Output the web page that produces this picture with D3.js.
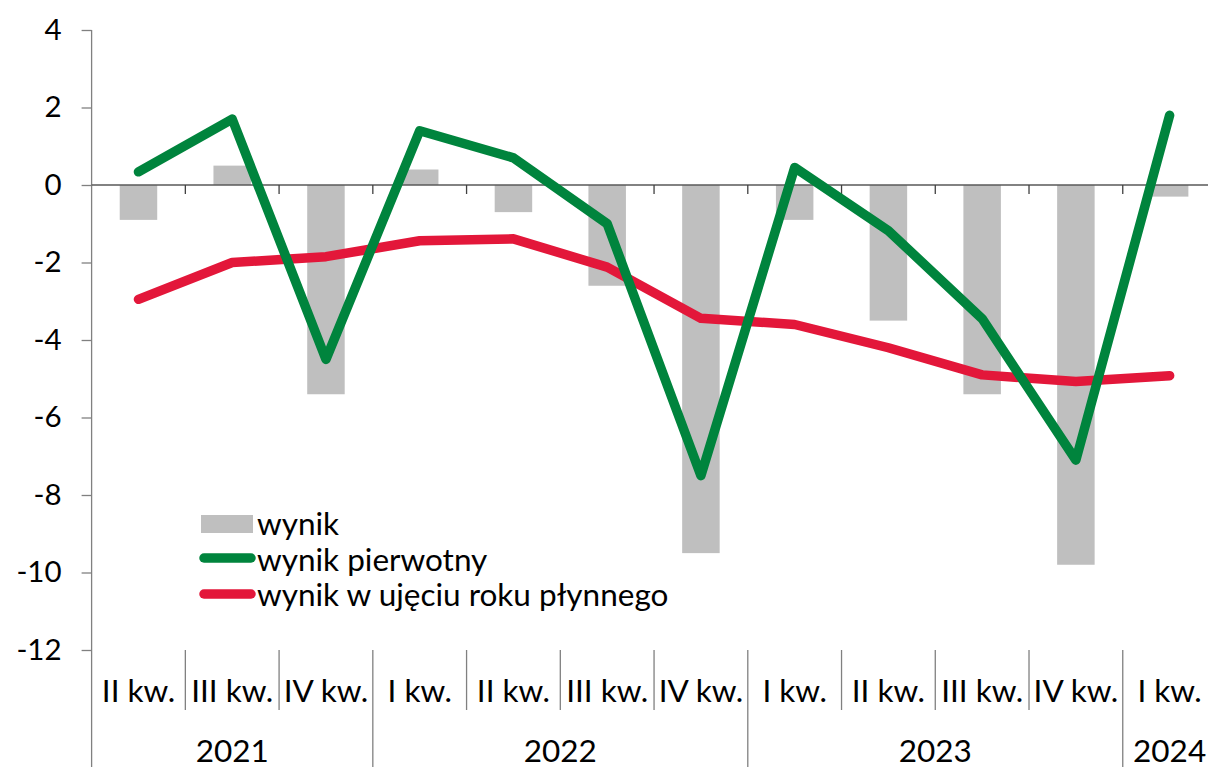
<!DOCTYPE html>
<html>
<head>
<meta charset="utf-8">
<script src="https://cdn.jsdelivr.net/npm/d3@7"></script>
<style>
  html, body { margin: 0; padding: 0; background: #fff; }
  svg { display: block; }
  text { font-family: Lato, "Open Sans", sans-serif; fill: #000; }
</style>
</head>
<body>
<svg id="chart" width="1208" height="767"></svg>
<script>
const quarters = ["II kw.", "III kw.", "IV kw.", "I kw.", "II kw.", "III kw.", "IV kw.", "I kw.", "II kw.", "III kw.", "IV kw.", "I kw."];
const years = [
  { label: "2021", start: 0, end: 3 },
  { label: "2022", start: 3, end: 7 },
  { label: "2023", start: 7, end: 11 },
  { label: "2024", start: 11, end: 12 }
];
const wynik = [-0.9, 0.5, -5.4, 0.4, -0.7, -2.6, -9.5, -0.9, -3.5, -5.4, -9.8, -0.3];
const wynikPierwotny = [0.34, 1.7, -4.5, 1.4, 0.7, -1.0, -7.5, 0.45, -1.18, -3.45, -7.1, 1.8];
const wynikRoczny = [-2.95, -2.0, -1.85, -1.44, -1.39, -2.12, -3.44, -3.6, -4.2, -4.9, -5.07, -4.92];
const yTicks = [4, 2, 0, -2, -4, -6, -8, -10, -12];
const legendLabels = ["wynik", "wynik pierwotny", "wynik w ujęciu roku płynnego"];

const colors = { bar: "#BFBFBF", green: "#00843D", red: "#E3173A", axis: "#808080" };

const svg = d3.select("#chart");
const plotLeft = 91.6, plotRight = 1216.5, plotTop = 30, plotBottom = 650;

const idx = d3.range(quarters.length);
const x = d3.scaleBand().domain(idx).range([plotLeft, plotRight]).paddingInner(0.6).paddingOuter(0.3);
const step = x.step();
const cx = i => x(i) + x.bandwidth() / 2;
const bandStart = i => plotLeft + i * step;
const y = d3.scaleLinear().domain([-12, 4]).range([plotBottom, plotTop]);

// bars
svg.append("g").selectAll("rect").data(wynik).join("rect")
  .attr("x", (d, i) => x(i))
  .attr("width", x.bandwidth())
  .attr("y", d => Math.min(y(d), y(0)))
  .attr("height", d => Math.abs(y(d) - y(0)))
  .attr("fill", colors.bar);

// y axis
const yAxis = d3.axisLeft(y).tickValues(yTicks).tickSize(10).tickPadding(20).tickFormat(d => String(d));
const yg = svg.append("g").attr("transform", `translate(${plotLeft},0)`).call(yAxis);
yg.select(".domain").remove();
yg.selectAll(".tick line").attr("stroke", colors.axis).attr("stroke-width", 1.3);
yg.selectAll(".tick text").style("font-family", "Lato, sans-serif").style("font-size", "29.5px").attr("fill", "#000");
svg.append("line").attr("x1", plotLeft).attr("x2", plotLeft).attr("y1", plotTop).attr("y2", 767)
  .attr("stroke", colors.axis).attr("stroke-width", 1.3);

// zero line with ticks
svg.append("line").attr("x1", plotLeft).attr("x2", 1208).attr("y1", y(0)).attr("y2", y(0))
  .attr("stroke", "#595959").attr("stroke-width", 1.5);
svg.append("g").selectAll("line").data(d3.range(1, quarters.length)).join("line")
  .attr("x1", i => bandStart(i)).attr("x2", i => bandStart(i))
  .attr("y1", y(0)).attr("y2", y(0) + 9)
  .attr("stroke", "#404040").attr("stroke-width", 1.3);

// lines
const line = d3.line().x((d, i) => cx(i)).y(d => y(d));
svg.append("path").datum(wynikRoczny).attr("d", line)
  .attr("fill", "none").attr("stroke", colors.red).attr("stroke-width", 9.5)
  .attr("stroke-linejoin", "round").attr("stroke-linecap", "round");
svg.append("path").datum(wynikPierwotny).attr("d", line)
  .attr("fill", "none").attr("stroke", colors.green).attr("stroke-width", 9.5)
  .attr("stroke-linejoin", "round").attr("stroke-linecap", "round");

// category axis
const yearStarts = new Set(years.map(d => d.start));
svg.append("g").selectAll("line").data(d3.range(1, quarters.length)).join("line")
  .attr("x1", i => bandStart(i)).attr("x2", i => bandStart(i))
  .attr("y1", plotBottom).attr("y2", i => yearStarts.has(i) ? 767 : 710)
  .attr("stroke", colors.axis).attr("stroke-width", 1.3);
svg.append("g").selectAll("text").data(quarters).join("text")
  .attr("x", (d, i) => cx(i)).attr("y", 702)
  .attr("text-anchor", "middle").style("font-size", "31.5px")
  .text(d => d);
svg.append("g").selectAll("text").data(years).join("text")
  .attr("x", d => (bandStart(d.start) + bandStart(d.end)) / 2).attr("y", 762)
  .attr("text-anchor", "middle").style("font-size", "31.5px")
  .text(d => d.label);

// legend
const lg = svg.append("g");
lg.append("rect").attr("x", 201).attr("y", 515).attr("width", 52).attr("height", 18).attr("fill", colors.bar);
lg.append("line").attr("x1", 204).attr("x2", 251).attr("y1", 558).attr("y2", 558)
  .attr("stroke", colors.green).attr("stroke-width", 9.5).attr("stroke-linecap", "round");
lg.append("line").attr("x1", 204).attr("x2", 251).attr("y1", 594).attr("y2", 594)
  .attr("stroke", colors.red).attr("stroke-width", 9.5).attr("stroke-linecap", "round");
lg.selectAll("text").data(legendLabels).join("text")
  .attr("x", 257).attr("y", (d, i) => 535 + i * 35.5)
  .style("font-size", "31.5px").text(d => d);
</script>
</body>
</html>
